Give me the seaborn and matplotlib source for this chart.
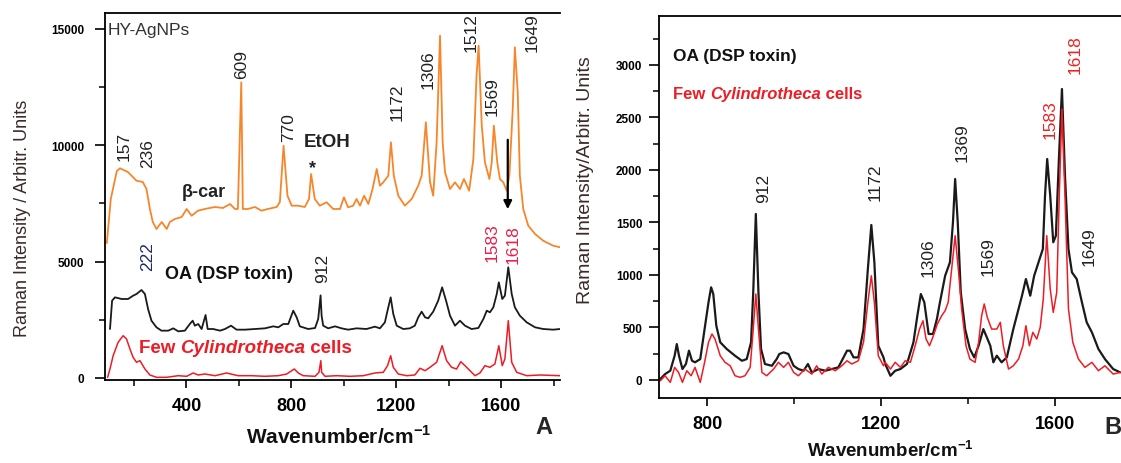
import matplotlib
matplotlib.use("Agg")
import matplotlib.pyplot as plt
import numpy as np
import pandas as pd
import seaborn as sns

# ---- panel A spectra (wavenumber, intensity) ----
hy_wn = [97, 112, 135, 147, 177, 210, 234, 248, 261, 272, 286, 306, 325, 337, 356, 382, 401, 420,
         444, 470, 509, 539, 566, 585, 596, 609, 615, 634, 661, 686, 710, 744, 756, 770, 785, 801,
         825, 851, 867, 875, 889, 908, 934, 959, 985, 1000, 1016, 1035, 1048, 1061, 1077, 1093,
         1109, 1125, 1137, 1150, 1169, 1179, 1190, 1207, 1232, 1258, 1283, 1296, 1312, 1328, 1340,
         1353, 1366, 1376, 1385, 1404, 1423, 1442, 1457, 1477, 1493, 1505, 1513, 1525, 1537, 1554,
         1563, 1571, 1584, 1594, 1607, 1620, 1630, 1643, 1651, 1662, 1670, 1683, 1702, 1728, 1759,
         1797, 1823]
hy_int = [5801, 7692, 8895, 9011, 8852, 8478, 8422, 8121, 7262, 6703, 6402, 6703, 6402, 6703, 6832,
          6918, 7262, 6974, 7189, 7262, 7348, 7305, 7477, 7262, 7262, 12706, 7262, 7262, 7348, 7189,
          7262, 7348, 7563, 9982, 7833, 7404, 7404, 7348, 7692, 8766, 7692, 7404, 7550, 7262, 7262,
          7765, 7335, 7404, 7692, 7404, 7833, 7477, 8121, 8981, 8263, 8409, 8693, 10128, 8693, 7833,
          7404, 7692, 8263, 8693, 10987, 8409, 7833, 10128, 14709, 10128, 8839, 8121, 8409, 8121,
          8551, 8049, 9411, 12990, 14279, 10841, 9269, 8551, 9269, 10841, 9269, 8551, 8409, 8049,
          8693, 11559, 14210, 12277, 8693, 7262, 6545, 6188, 5900, 5685, 5616]

oa_a_wn = [109, 117, 128, 153, 178, 197, 210, 229, 242, 254, 267, 286, 305, 331, 350, 369, 394, 413,
           424, 432, 445, 458, 473, 481, 502, 528, 547, 570, 591, 623, 661, 699, 731, 750, 769, 788,
           807, 820, 832, 864, 890, 902, 911, 915, 921, 940, 966, 991, 1016, 1048, 1086, 1118, 1137,
           1156, 1166, 1178, 1188, 1201, 1226, 1251, 1270, 1283, 1296, 1309, 1321, 1340, 1359, 1374,
           1389, 1404, 1423, 1442, 1461, 1486, 1512, 1531, 1544, 1556, 1569, 1582, 1590, 1603, 1613,
           1626, 1639, 1651, 1670, 1696, 1728, 1759, 1797, 1823]
oa_a_int = [2105, 3322, 3466, 3395, 3395, 3537, 3609, 3781, 3609, 2965, 2462, 2178, 2034, 2034, 2134,
            2005, 2034, 2320, 2462, 2248, 2320, 2105, 2707, 2105, 2105, 2034, 2105, 2248, 2077, 2077,
            2105, 2134, 2220, 2178, 2320, 2320, 2893, 2607, 2220, 2105, 2148, 2535, 3550, 2677, 2248,
            2134, 2220, 2134, 2077, 2134, 2105, 2206, 2134, 2392, 2892, 3466, 2750, 2248, 2105, 2134,
            2248, 2607, 2850, 2607, 2565, 2850, 3322, 3896, 3322, 2678, 2248, 2462, 2248, 2105, 2148,
            2535, 2893, 2822, 3037, 3609, 4110, 3395, 3537, 4757, 3609, 3037, 2678, 2392, 2178, 2105,
            2077, 2105]

cy_a_wn = [100, 109, 121, 140, 159, 172, 185, 197, 210, 223, 242, 261, 286, 325, 369, 401, 426, 445,
           470, 509, 553, 597, 648, 699, 750, 782, 811, 826, 845, 890, 905, 912, 915, 928, 972, 1023,
           1074, 1118, 1150, 1166, 1178, 1188, 1207, 1239, 1270, 1290, 1309, 1328, 1353, 1374, 1391,
           1410, 1429, 1445, 1461, 1480, 1499, 1518, 1537, 1556, 1575, 1590, 1603, 1613, 1626, 1639,
           1658, 1696, 1747, 1823]
cy_a_int = [30, 387, 958, 1534, 1818, 1676, 1246, 889, 675, 745, 387, 129, 30, 30, 99, 73, 215, 129,
            172, 99, 215, 99, 99, 73, 99, 172, 387, 215, 99, 73, 245, 745, 245, 73, 99, 73, 99, 215,
            245, 528, 958, 460, 172, 99, 129, 417, 314, 460, 675, 1388, 745, 460, 387, 700, 530, 314,
            99, 215, 530, 460, 602, 1388, 530, 816, 2462, 675, 245, 99, 129, 99]

# ---- panel B spectra ----
oa_b_wn = [692, 703, 715, 725, 730, 735, 743, 751, 758, 765, 772, 784, 794, 803, 809, 814, 821, 830,
           845, 864, 880, 891, 901, 906, 912, 918, 924, 933, 949, 960, 966, 976, 987, 999, 1010, 1022,
           1032, 1041, 1056, 1072, 1087, 1102, 1114, 1122, 1129, 1137, 1148, 1160, 1170, 1178, 1185,
           1194, 1206, 1210, 1222, 1233, 1245, 1260, 1275, 1284, 1292, 1300, 1310, 1320, 1329, 1336,
           1348, 1359, 1366, 1371, 1377, 1384, 1394, 1405, 1415, 1425, 1436, 1444, 1452, 1459, 1467,
           1478, 1490, 1498, 1505, 1513, 1525, 1534, 1544, 1553, 1563, 1573, 1578, 1583, 1590, 1597,
           1603, 1610, 1617, 1624, 1632, 1640, 1651, 1663, 1674, 1686, 1701, 1716, 1735, 1751]
oa_b_int = [7, 54, 86, 229, 340, 229, 102, 150, 277, 181, 166, 197, 483, 738, 881, 817, 515, 357, 293,
            229, 181, 197, 357, 833, 1580, 833, 293, 150, 133, 197, 245, 261, 245, 133, 102, 86, 150,
            70, 102, 86, 102, 118, 213, 277, 277, 213, 213, 483, 1055, 1475, 1119, 324, 213, 150, 38,
            86, 102, 150, 357, 610, 817, 738, 436, 436, 579, 738, 991, 1119, 1500, 1913, 1500, 833,
            483, 293, 213, 324, 483, 404, 324, 166, 229, 166, 213, 357, 483, 610, 801, 960, 801, 991,
            1119, 1246, 1754, 2104, 1754, 1310, 1373, 2104, 2771, 1945, 1246, 1024, 960, 738, 547, 452,
            293, 197, 102, 70]

cy_b_wn = [692, 703, 715, 725, 734, 743, 753, 763, 772, 784, 794, 803, 811, 818, 830, 841, 853, 864,
           876, 887, 899, 906, 912, 918, 926, 937, 953, 964, 976, 987, 999, 1010, 1025, 1041, 1052,
           1064, 1079, 1095, 1110, 1122, 1133, 1148, 1160, 1170, 1178, 1185, 1194, 1206, 1210, 1222,
           1233, 1245, 1256, 1268, 1279, 1289, 1297, 1304, 1312, 1321, 1330, 1340, 1348, 1355, 1363,
           1371, 1379, 1386, 1396, 1405, 1417, 1425, 1432, 1438, 1445, 1455, 1467, 1475, 1482, 1494,
           1505, 1517, 1527, 1534, 1542, 1550, 1559, 1567, 1574, 1582, 1590, 1597, 1605, 1611, 1617,
           1624, 1632, 1642, 1655, 1670, 1686, 1701, 1716, 1735, 1751]
cy_b_int = [-10, 38, -25, 118, 70, -25, 86, 38, 118, -25, 166, 357, 436, 388, 229, 166, 133, 38, 23,
            38, 118, 483, 817, 483, 70, 38, 102, 166, 118, 166, 70, 38, 102, 54, 133, 54, 118, 86, 133,
            181, 150, 181, 357, 738, 991, 738, 229, 133, 166, 102, 166, 118, 181, 166, 324, 483, 562,
            388, 324, 420, 531, 610, 658, 738, 1055, 1373, 1024, 674, 324, 197, 166, 357, 610, 722,
            595, 483, 483, 547, 324, 102, 133, 197, 324, 515, 324, 452, 388, 500, 769, 1373, 865, 642,
            833, 1786, 2581, 1754, 674, 357, 197, 118, 166, 86, 133, 54, 70]

# peak labels: (text, wavenumber, intensity, colour)
peaks_a = [("157", 163, 10012, "#222222"), ("236", 254, 9668, "#222222"),
           ("609", 610, 13493, "#222222"), ("770", 788, 10785, "#222222"),
           ("1172", 1201, 11903, "#222222"), ("1306", 1321, 13279, "#222222"),
           ("1512", 1486, 14868, "#222222"), ("1569", 1563, 12117, "#222222"),
           ("1649", 1715, 14868, "#222222"), ("222", 254, 5242, "#1f2a66"),
           ("912", 920, 4770, "#222222"), ("1583", 1563, 5844, "#e8204a"),
           ("1618", 1645, 5758, "#e8204a")]
peaks_b = [("912", 929, 1837, "#222222"), ("1172", 1186, 1892, "#222222"),
           ("1306", 1309, 1170, "#222222"), ("1369", 1387, 2266, "#222222"),
           ("1569", 1447, 1179, "#222222"), ("1583", 1590, 2485, "#ee2222"),
           ("1618", 1647, 3105, "#ee2222"), ("1649", 1680, 1275, "#222222")]

ORANGE = "#f7862a"
BLACK = "#1a1a1a"
RED = "#ee1c24"

sns.set_theme(style="ticks")
plt.rcParams["font.family"] = ["Liberation Sans", "DejaVu Sans"]
plt.rcParams["mathtext.fontset"] = "custom"
plt.rcParams["mathtext.rm"] = "Liberation Sans:bold"
plt.rcParams["mathtext.bf"] = "Liberation Sans:bold"

fig = plt.figure(figsize=(11.21, 4.64), dpi=100)
ax_a = fig.add_axes([0.09367, 0.17888, 0.4059, 0.79095])
ax_b = fig.add_axes([0.58787, 0.14009, 0.41213, 0.82263])


def draw(ax, wn, vals, color, lw):
    df = pd.DataFrame({"wn": wn, "I": vals})
    sns.lineplot(data=df, x="wn", y="I", ax=ax, color=color, lw=lw, sort=False, estimator=None)


def few_cells(ax, x, y, size):
    t = ax.text(x, y, "Few ", color=RED, fontsize=size, fontweight="bold", va="center")
    t2 = ax.annotate("Cylindrotheca", xy=(1, 0), xycoords=t, va="bottom", color=RED,
                     fontsize=size, fontweight="bold", fontstyle="italic")
    ax.annotate(" cells", xy=(1, 0), xycoords=t2, va="bottom", color=RED,
                fontsize=size, fontweight="bold")


def style_axes(ax, ypad, xpad):
    for s in ["left", "bottom", "top"]:
        ax.spines[s].set_color("black")
        ax.spines[s].set_linewidth(1.3)
    ax.spines["right"].set_visible(False)
    ax.tick_params(axis="x", which="major", length=6, width=1.2, labelsize=13, pad=xpad, colors="black")
    ax.tick_params(axis="y", which="major", length=7, width=1.2, labelsize=8.5, pad=ypad, colors="black")
    ax.tick_params(which="minor", length=4, width=1.1, color="black")
    for lab in ax.get_xticklabels() + ax.get_yticklabels():
        lab.set_fontweight("bold")
    ax.set_facecolor("white")
    ax.grid(False)


# ---- panel A ----
draw(ax_a, hy_wn, hy_int, ORANGE, 1.3)
draw(ax_a, oa_a_wn, oa_a_int, BLACK, 1.3)
draw(ax_a, cy_a_wn, cy_a_int, RED, 1.1)
ax_a.set_xlim(90, 1823)
ax_a.set_ylim(-86, 15684)
ax_a.set_xticks([400, 800, 1200, 1600])
ax_a.set_xticks([200, 600, 1000, 1400, 1800], minor=True)
ax_a.set_yticks([0, 5000, 10000, 15000])
ax_a.set_yticks([2500, 7500, 12500], minor=True)
style_axes(ax_a, 8, 6)

for txt, x, y, c in peaks_a:
    ax_a.text(x, y, txt, rotation=90, ha="center", va="center", fontsize=12.5, color=c)
ax_a.text(101, 14967, "HY-AgNPs", fontsize=12.5, color="#333333", va="center")
ax_a.text(467, 8006, "β-car", fontsize=13, fontweight="bold", color="#222222", ha="center", va="center")
ax_a.text(935, 10141, "EtOH", fontsize=13.5, fontweight="bold", color="#222222", ha="center", va="center")
ax_a.text(879, 9024, "*", fontsize=13, fontweight="bold", color="#222222", ha="center", va="center")
ax_a.text(318, 4499, "OA (DSP toxin)", fontsize=13, fontweight="bold", color="#111111", va="center")
few_cells(ax_a, 219, 1319, 13.5)
ax_a.annotate("", xy=(1624, 7133), xytext=(1624, 10356),
              arrowprops=dict(arrowstyle="-|>", color="black", lw=1.6, mutation_scale=12))

ax_a.set_xlabel(r"Wavenumber/cm$^{-1}$", fontsize=15, fontweight="bold", color="#111111")
ax_a.xaxis.set_label_coords(0.513, -0.152)
ax_a.xaxis.label.set_va("center")
ax_a.set_ylabel("Raman Intensity / Arbitr. Units", fontsize=13, color="#3a2a2a")
ax_a.yaxis.set_label_coords(-0.1824, 0.444)
ax_a.yaxis.label.set_va("center")

# ---- panel B ----
draw(ax_b, oa_b_wn, oa_b_int, BLACK, 1.6)
draw(ax_b, cy_b_wn, cy_b_int, RED, 1.1)
ax_b.set_xlim(689, 1753)
ax_b.set_ylim(-174, 3464)
ax_b.set_xticks([800, 1200, 1600])
ax_b.set_xticks([1000, 1400], minor=True)
ax_b.set_yticks(np.arange(0, 3001, 500))
ax_b.set_yticks(np.arange(250, 3300, 500), minor=True)
style_axes(ax_b, 5, 6)

for txt, x, y, c in peaks_b:
    ax_b.text(x, y, txt, rotation=90, ha="center", va="center", fontsize=12.5, color=c)
ax_b.text(722, 3089, "OA (DSP toxin)", fontsize=12.5, fontweight="bold", color="#111111", va="center")
few_cells(ax_b, 722, 2724, 12)

ax_b.set_xlabel(r"Wavenumber/cm$^{-1}$", fontsize=13.5, fontweight="bold", color="#111111")
ax_b.xaxis.set_label_coords(0.5, -0.136)
ax_b.xaxis.label.set_va("center")
ax_b.set_ylabel("Raman Intensity/Arbitr. Units", fontsize=14, color="#3a2a2a")
ax_b.yaxis.set_label_coords(-0.160, 0.573)
ax_b.yaxis.label.set_va("center")

fig.text(544 / 1121, 1 - 428 / 464, "A", fontsize=17, fontweight="bold", ha="center", va="center")
fig.text(1113 / 1121, 1 - 428 / 464, "B", fontsize=17, fontweight="bold", ha="center", va="center")

fig.savefig("out.png", dpi=100, facecolor="white")
